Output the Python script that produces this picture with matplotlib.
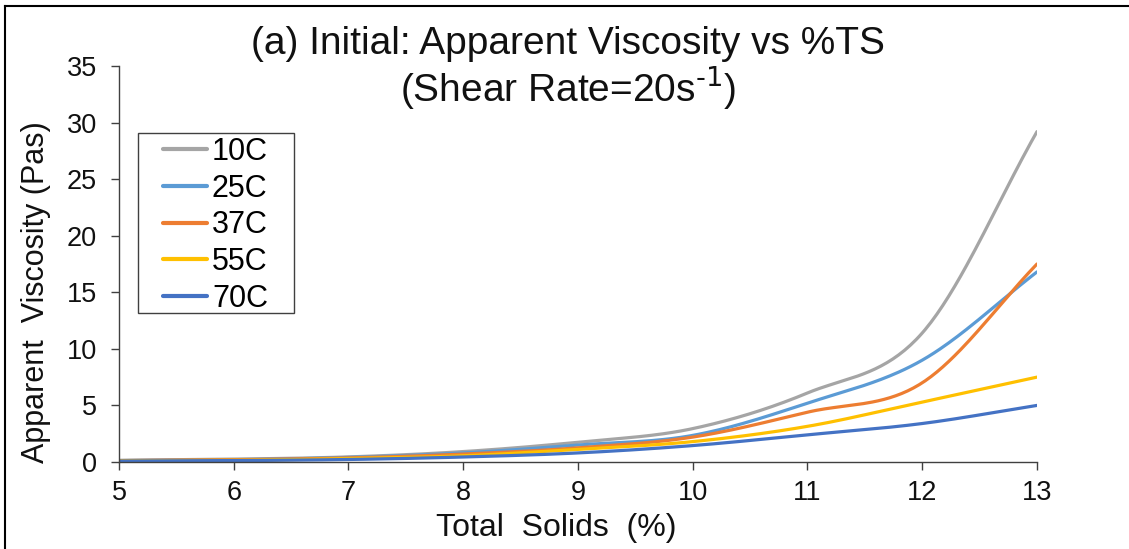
import numpy as np
import matplotlib
matplotlib.use("Agg")
import matplotlib.pyplot as plt
from matplotlib.lines import Line2D
from matplotlib.patches import Rectangle

plt.rcParams['font.family'] = ['Liberation Sans', 'DejaVu Sans']
plt.rcParams['mathtext.default'] = 'regular'

# total solids (%) and apparent viscosity (Pas) at 20 1/s
ts = [5, 6, 7, 8, 9, 10, 11, 12, 13]
temps = ["10C", "25C", "37C", "55C", "70C"]
visc_10 = [0.15, 0.25, 0.45, 0.92, 1.75, 2.95, 6.1, 11.4, 29.2]
visc_25 = [0.12, 0.2, 0.4, 0.8, 1.5, 2.35, 5.2, 9.0, 16.8]
visc_37 = [0.12, 0.2, 0.36, 0.7, 1.25, 2.2, 4.4, 7.0, 17.5]
visc_55 = [0.1, 0.15, 0.3, 0.55, 1.12, 1.8, 3.15, 5.3, 7.5]
visc_70 = [0.08, 0.12, 0.22, 0.44, 0.8, 1.45, 2.4, 3.4, 5.0]

COLORS = ["#A5A5A5", "#5B9BD5", "#ED7D31", "#FFC000", "#4472C4"]
TXT = '#111111'
AXC = '#404040'


def smooth(x, y, n=40):
    # catmull-rom spline through the points, like a "smoothed line" chart
    x = np.asarray(x, float)
    y = np.asarray(y, float)
    m = np.zeros_like(y)
    m[1:-1] = (y[2:] - y[:-2]) / 2
    m[0] = y[1] - y[0]
    m[-1] = y[-1] - y[-2]
    xs, ys = [], []
    t = np.linspace(0, 1, n)
    h00 = 2 * t**3 - 3 * t**2 + 1
    h10 = t**3 - 2 * t**2 + t
    h01 = -2 * t**3 + 3 * t**2
    h11 = t**3 - t**2
    for i in range(len(x) - 1):
        xs.append(x[i] + t * (x[i + 1] - x[i]))
        ys.append(h00 * y[i] + h10 * m[i] + h01 * y[i + 1] + h11 * m[i + 1])
    return np.concatenate(xs), np.concatenate(ys)


fig = plt.figure(figsize=(11.29, 5.49), dpi=100)
ax = fig.add_axes([0.1054, 0.1585, 0.8131, 0.7213])

for name, vals, c in zip(temps, [visc_10, visc_25, visc_37, visc_55, visc_70], COLORS):
    sx, sy = smooth(ts, vals)
    ax.plot(sx, sy, color=c, lw=2.3, label=name, solid_capstyle='round')

ax.set_xlim(5, 13)
ax.set_ylim(0, 35)
ax.set_xticks(ts)
ax.set_yticks(range(0, 40, 5))
for s in ['top', 'right']:
    ax.spines[s].set_visible(False)
for s in ['left', 'bottom']:
    ax.spines[s].set_color(AXC)
    ax.spines[s].set_linewidth(1.0)
ax.tick_params(direction='out', length=6, width=1.0, color=AXC,
               labelsize=19.5, labelcolor=TXT)
ax.tick_params(axis='y', pad=10)
ax.tick_params(axis='x', pad=7)

ax.set_xlabel('Total  Solids  (%)', fontsize=23, color=TXT)
ax.xaxis.set_label_coords(0.476, -0.128)
ax.set_ylabel('Apparent  Viscosity (Pas)', fontsize=22, color=TXT)
ax.yaxis.set_label_coords(-0.074, 0.43)

fig.text(0.503, 0.952, '(a) Initial: Apparent Viscosity vs %TS\n(Shear Rate=20s$^{\\text{-1}}$)',
         ha='center', va='top', fontsize=28, color=TXT, linespacing=1.05)

leg = ax.legend(loc='upper left', bbox_to_anchor=(163 / 1129, 1 - 137 / 549),
                bbox_transform=fig.transFigure, borderaxespad=0, borderpad=0,
                fontsize=22, frameon=False, handlelength=1.45,
                handletextpad=0.15, labelspacing=0.22)
for h in leg.get_lines():
    h.set_linewidth(3)
# legend box
fig.add_artist(Rectangle((138 / 1129, 1 - 313 / 549), 156 / 1129, 180 / 549,
                         transform=fig.transFigure, fill=False, ec=AXC, lw=1.0))

# outer frame along the top and left edges
fig.add_artist(Line2D([0.0044, 1.0], [0.989, 0.989], color='black', lw=1.5))
fig.add_artist(Line2D([0.0044, 0.0044], [0.0, 0.989], color='black', lw=1.5))

fig.savefig('out.png', dpi=100)
